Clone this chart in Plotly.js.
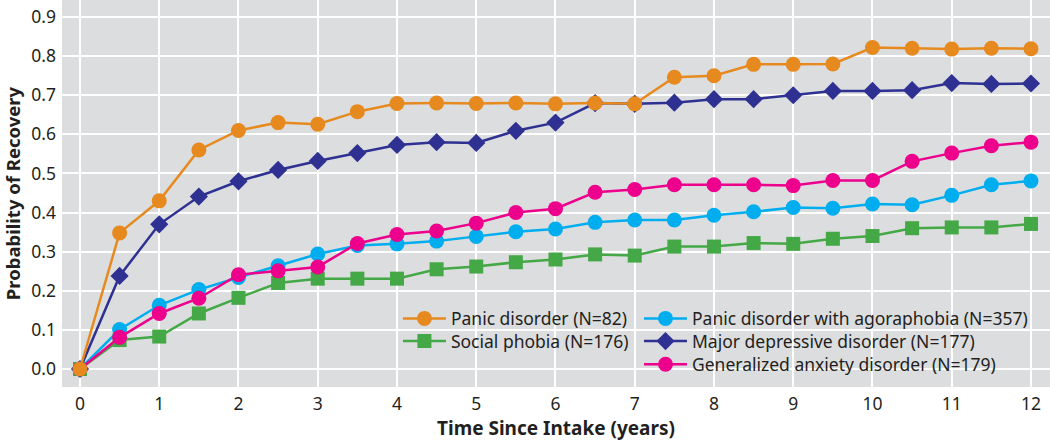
<!DOCTYPE html>
<html>
<head>
<meta charset="utf-8">
<script src="https://cdn.plot.ly/plotly-3.0.1.min.js"></script>
<style>html,body{margin:0;padding:0;background:#fff;}#chart{width:1050px;height:441px;}</style>
</head>
<body>
<div id="chart"></div>
<script>
const years = [0,0.5,1,1.5,2,2.5,3,3.5,4,4.5,5,5.5,6,6.5,7,7.5,8,8.5,9,9.5,10,10.5,11,11.5,12];
const panic = [0,0.348,0.43,0.56,0.61,0.63,0.626,0.658,0.679,0.68,0.679,0.68,0.678,0.68,0.678,0.746,0.75,0.779,0.779,0.78,0.822,0.82,0.818,0.82,0.819];
const socialPhobia = [0,0.074,0.083,0.142,0.182,0.22,0.231,0.231,0.231,0.255,0.262,0.273,0.28,0.293,0.29,0.313,0.313,0.322,0.32,0.333,0.34,0.36,0.362,0.362,0.371];
const agoraphobia = [0,0.101,0.163,0.203,0.234,0.264,0.294,0.316,0.32,0.327,0.339,0.351,0.358,0.375,0.381,0.381,0.393,0.402,0.413,0.411,0.422,0.42,0.444,0.471,0.481];
const depression = [0,0.238,0.37,0.441,0.48,0.509,0.532,0.552,0.573,0.58,0.578,0.609,0.63,0.68,0.678,0.681,0.69,0.69,0.70,0.711,0.711,0.713,0.731,0.729,0.73];
const anxiety = [0,0.081,0.142,0.181,0.241,0.251,0.261,0.321,0.344,0.353,0.373,0.4,0.41,0.452,0.459,0.471,0.471,0.471,0.469,0.482,0.482,0.531,0.552,0.571,0.58];
const yTicks = [0,0.1,0.2,0.3,0.4,0.5,0.6,0.7,0.8,0.9];
const yTickText = ["0.0","0.1","0.2","0.3","0.4","0.5","0.6","0.7","0.8","0.9"];
const xTicks = [0,1,2,3,4,5,6,7,8,9,10,11,12];

const FONT = "'Noto Sans', 'Open Sans', sans-serif";
function tr(name, y, color, symbol, size, legend) {
  return {x: years, y: y, name: name, type: 'scatter', mode: 'lines+markers',
    line: {color: color, width: 2.5},
    marker: {color: color, symbol: symbol, size: size, line: {width: 0}},
    legend: legend};
}
const data = [
  tr('Social phobia (N=176)', socialPhobia, '#43A845', 'square', 14, 'legend2'),
  tr('Panic disorder with agoraphobia (N=357)', agoraphobia, '#00AEEF', 'circle', 15, 'legend3'),
  tr('Generalized anxiety disorder (N=179)', anxiety, '#EC008C', 'circle', 15, 'legend5'),
  tr('Major depressive disorder (N=177)', depression, '#2E3192', 'diamond', 14, 'legend4'),
  tr('Panic disorder (N=82)', panic, '#E68A1F', 'circle', 15, 'legend')
];
function leg(x, y) {
  return {x: x, y: y, bgcolor: 'rgba(0,0,0,0)', borderwidth: 0,
    font: {family: FONT, size: 17.5, color: '#231F20'},
    xanchor: 'left', yanchor: 'middle', itemwidth: 43};
}
const col1 = 0.340, col2 = 0.584;
const row1 = 0.177, row2 = 0.1184, row3 = 0.0585;
const layout = {
  width: 1050, height: 441,
  margin: {l: 62, r: 0, t: 0, b: 54},
  paper_bgcolor: '#FFFFFF', plot_bgcolor: '#DCDDDF',
  font: {family: FONT, size: 17, color: '#231F20'},
  showlegend: true,
  xaxis: {range: [-0.227, 12.24], tickvals: xTicks, ticktext: xTicks.map(String),
    showgrid: true, gridcolor: '#FFFFFF', gridwidth: 2, zeroline: false, showline: false,
    ticks: '', ticklabelstandoff: 4, tickfont: {family: FONT, size: 17.5, color: '#231F20'},
    title: {text: 'Time Since Intake (years)', font: {family: FONT, size: 19, color: '#231F20', weight: 'bold'}, standoff: 13}},
  yaxis: {range: [-0.046, 0.9435], tickvals: yTicks, ticktext: yTickText, automargin: true,
    showgrid: true, gridcolor: '#FFFFFF', gridwidth: 2, zeroline: false, showline: false,
    ticks: '', ticklabelstandoff: 5, tickfont: {family: FONT, size: 17.5, color: '#231F20'},
    title: {text: 'Probability of Recovery', font: {family: FONT, size: 18.5, color: '#231F20', weight: 'bold'}, standoff: 7}},
  legend: leg(col1, row1),
  legend2: leg(col1, row2),
  legend3: leg(col2, row1),
  legend4: leg(col2, row2),
  legend5: leg(col2, row3)
};
Plotly.newPlot('chart', data, layout, {displayModeBar: false, staticPlot: true});
</script>
</body>
</html>
